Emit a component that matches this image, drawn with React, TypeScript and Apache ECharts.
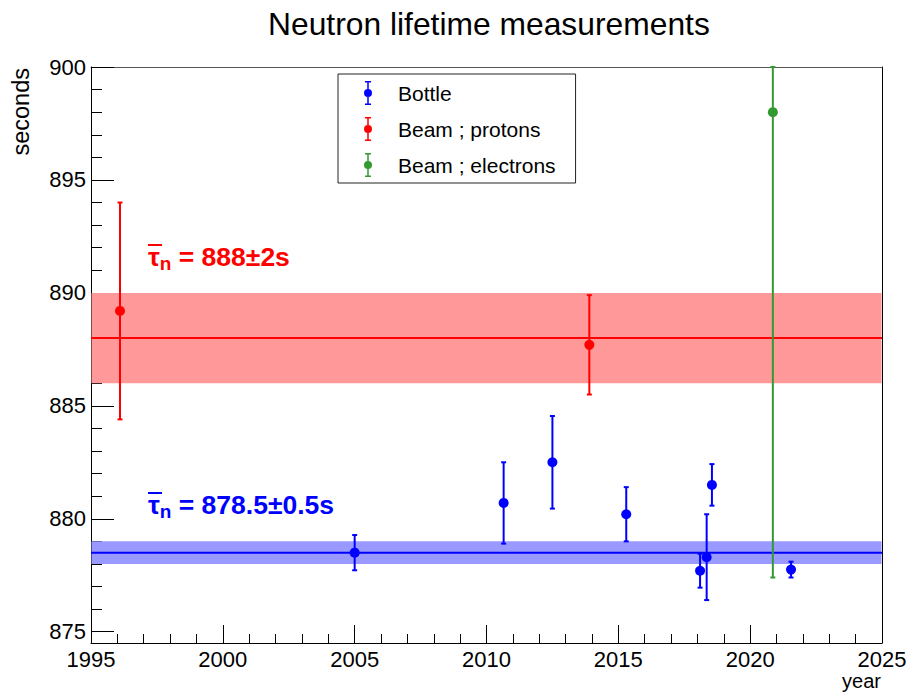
import React, { useEffect, useRef } from "react";
import * as echarts from "echarts";

// ---------- data ----------
const bottleYears = [2005.0, 2010.65, 2012.5, 2015.3, 2018.1, 2018.35, 2018.55, 2021.55];
const bottleValues = [878.5, 880.7, 882.5, 880.2, 877.7, 878.3, 881.5, 877.75];
const bottleErrLow = [0.78, 1.8, 2.05, 1.2, 0.75, 1.9, 0.92, 0.35];
const bottleErrHigh = [0.78, 1.8, 2.05, 1.2, 0.75, 1.9, 0.92, 0.35];

const protonYears = [1996.1, 2013.9];
const protonValues = [889.2, 887.7];
const protonErrLow = [4.8, 2.2];
const protonErrHigh = [4.8, 2.2];

const electronYears = [2020.86];
const electronValues = [898.0];
const electronErrLow = [20.6];
const electronErrHigh = [18.0];

const bandMeans = [888, 878.5];
const bandSigmas = [2, 0.5];

const seriesNames = ["Bottle", "Beam ; protons", "Beam ; electrons"];
const yMajorTicks = [875, 880, 885, 890, 895, 900];
const yMinorTicks = Array.from({ length: 26 }, (_, i) => 875 + i);

const X_MIN = 1995;
const X_MAX = 2025;
const Y_MIN = 874.5;
const Y_MAX = 900;

const FONT = "Liberation Sans, Arial, Helvetica, sans-serif";
const BLUE = "#0000ff";
const RED = "#ff0000";
const GREEN = "#339933";

const ICON =
  "path://M2,0H8V1.5H2Z M4.25,0H5.75V24H4.25Z M2,22.5H8V24H2Z M1,12A4,4 0 1,1 9,12A4,4 0 1,1 1,12Z";

function rows(xs: number[], ys: number[], lo: number[], hi: number[]) {
  return xs.map((x, i) => [x, ys[i], ys[i] - lo[i], ys[i] + hi[i]]);
}

function errorBarRender(color: string) {
  return (params: any, api: any) => {
    const x = api.value(0);
    const y = api.value(1);
    const lo = api.value(2);
    const hi = api.value(3);
    const cs = params.coordSys;
    const c = api.coord([x, y]);
    let top = api.coord([x, hi])[1];
    let bot = api.coord([x, lo])[1];
    top = Math.max(top, cs.y);
    bot = Math.min(bot, cs.y + cs.height);
    const cap = 2.5;
    const ls = { stroke: color, lineWidth: 2 };
    return {
      type: "group",
      children: [
        { type: "line", shape: { x1: c[0], y1: top, x2: c[0], y2: bot }, style: ls },
        { type: "line", shape: { x1: c[0] - cap, y1: top, x2: c[0] + cap, y2: top }, style: ls },
        { type: "line", shape: { x1: c[0] - cap, y1: bot, x2: c[0] + cap, y2: bot }, style: ls },
        { type: "circle", shape: { cx: c[0], cy: c[1], r: 5 }, style: { fill: color } },
      ],
    };
  };
}

const bandColors = [
  { fill: "#ff9999", line: RED },
  { fill: "#9999ff", line: BLUE },
];

function annotation(x: number, y: number, value: string, color: string) {
  const main = { fontFamily: FONT, fontSize: 26.5, fontWeight: "bold", fill: color, lineHeight: 32 };
  return {
    type: "group",
    x,
    y,
    children: [
      {
        type: "text",
        style: {
          text: "{t|τ}{s|n}{b| = " + value + "}",
          fill: color,
          verticalAlign: "middle",
          rich: {
            t: main,
            s: { fontFamily: FONT, fontSize: 19, fontWeight: "bold", fill: color, lineHeight: 20, verticalAlign: "bottom" },
            b: main,
          },
        },
      },
      { type: "line", shape: { x1: 0, y1: -12, x2: 14, y2: -12 }, style: { stroke: color, lineWidth: 2 } },
    ],
  };
}

export default function App() {
  const ref = useRef<HTMLDivElement>(null);

  useEffect(() => {
    if (!ref.current) return;
    const chart = echarts.init(ref.current, null, { renderer: "svg" });

    const option: any = {
      animation: false,
      backgroundColor: "#ffffff",
      textStyle: { fontFamily: FONT },
      title: {
        text: "Neutron lifetime measurements",
        left: 263,
        top: 3,
        textStyle: { fontFamily: FONT, fontSize: 31.8, fontWeight: "normal", color: "#000" },
      },
      legend: {
        orient: "vertical",
        left: 338,
        top: 74,
        padding: [7, 20, 6, 26],
        itemGap: 12,
        itemWidth: 10,
        itemHeight: 24,
        borderColor: "#222",
        borderWidth: 1,
        backgroundColor: "#fff",
        textStyle: { fontFamily: FONT, fontSize: 21, color: "#000", padding: [0, 0, 0, 20] },
        data: seriesNames.map((n) => ({ name: n, icon: ICON })),
      },
      grid: { left: 91, right: 28, top: 67, bottom: 49, show: false },
      xAxis: [
        {
          type: "value",
          min: X_MIN,
          max: X_MAX,
          interval: 5,
          axisLine: { show: true, onZero: false, lineStyle: { color: "#000", width: 1 } },
          axisTick: { show: true, inside: true, length: 18, lineStyle: { color: "#000" } },
          minorTick: { show: true, splitNumber: 5, length: 9, lineStyle: { color: "#000" } },
          axisLabel: {
            fontFamily: FONT,
            fontSize: 22,
            lineHeight: 20,
            color: "#000",
            margin: 6,
            formatter: (v: number) => String(v),
          },
          splitLine: { show: false },
        },
        {
          type: "value",
          position: "top",
          min: X_MIN,
          max: X_MAX,
          interval: 5,
          axisLine: { show: true, onZero: false, lineStyle: { color: "#555", width: 1 } },
          axisTick: { show: false },
          axisLabel: { show: false },
          splitLine: { show: false },
        },
      ],
      yAxis: [
        {
          type: "value",
          position: "left",
          min: Y_MIN,
          max: Y_MAX,
          axisLine: { show: true, onZero: false, lineStyle: { color: "#000", width: 1 } },
          axisTick: { show: true, inside: true, length: 23, customValues: yMajorTicks, lineStyle: { color: "#000" } },
          axisLabel: {
            fontFamily: FONT,
            fontSize: 22,
            color: "#000",
            margin: 5,
            customValues: yMajorTicks,
            formatter: (v: number) => String(v),
          },
          splitLine: { show: false },
        },
        {
          type: "value",
          position: "left",
          offset: 0,
          min: Y_MIN,
          max: Y_MAX,
          axisLine: { show: false },
          axisTick: { show: true, inside: true, length: 11, customValues: yMinorTicks, lineStyle: { color: "#000" } },
          axisLabel: { show: false },
          splitLine: { show: false },
        },
        {
          type: "value",
          position: "right",
          offset: 0,
          min: Y_MIN,
          max: Y_MAX,
          axisLine: { show: true, onZero: false, lineStyle: { color: "#000", width: 1 } },
          axisTick: { show: false },
          axisLabel: { show: false },
          splitLine: { show: false },
        },
      ],
      series: [
        {
          type: "custom",
          name: "bands",
          silent: true,
          data: bandMeans.map((m, i) => [m, bandSigmas[i], i]),
          renderItem: (params: any, api: any) => {
            const m = api.value(0);
            const s = api.value(1);
            const idx = api.value(2);
            const cs = params.coordSys;
            const yTop = api.coord([X_MIN, m + s])[1];
            const yBot = api.coord([X_MIN, m - s])[1];
            const yMid = api.coord([X_MIN, m])[1];
            const col = bandColors[idx];
            return {
              type: "group",
              children: [
                {
                  type: "rect",
                  shape: { x: cs.x + 0.5, y: yTop, width: cs.width - 1, height: yBot - yTop },
                  style: { fill: col.fill },
                },
                {
                  type: "line",
                  shape: { x1: cs.x, y1: yMid, x2: cs.x + cs.width, y2: yMid },
                  style: { stroke: col.line, lineWidth: 2 },
                },
              ],
            };
          },
          encode: { x: -1, y: 0 },
        },
        {
          type: "custom",
          name: seriesNames[1],
          itemStyle: { color: RED },
          data: rows(protonYears, protonValues, protonErrLow, protonErrHigh),
          renderItem: errorBarRender(RED),
          encode: { x: 0, y: 1 },
        },
        {
          type: "custom",
          name: seriesNames[2],
          itemStyle: { color: GREEN },
          data: rows(electronYears, electronValues, electronErrLow, electronErrHigh),
          renderItem: errorBarRender(GREEN),
          encode: { x: 0, y: 1 },
        },
        {
          type: "custom",
          name: seriesNames[0],
          itemStyle: { color: BLUE },
          data: rows(bottleYears, bottleValues, bottleErrLow, bottleErrHigh),
          renderItem: errorBarRender(BLUE),
          encode: { x: 0, y: 1 },
        },
      ],
      graphic: [
        {
          type: "text",
          x: 21,
          y: 68,
          rotation: Math.PI / 2,
          style: {
            text: "seconds",
            fontFamily: FONT,
            fontSize: 23.5,
            fill: "#000",
            align: "right",
            verticalAlign: "middle",
          },
        },
        {
          type: "text",
          x: 881,
          y: 681,
          style: {
            text: "year",
            fontFamily: FONT,
            fontSize: 20,
            lineHeight: 18,
            fill: "#000",
            align: "right",
            verticalAlign: "middle",
          },
        },
        annotation(148, 257, "888±2s", RED),
        annotation(148, 505, "878.5±0.5s", BLUE),
      ],
    };

    chart.setOption(option);
    return () => chart.dispose();
  }, []);

  return <div ref={ref} style={{ width: 910, height: 692, position: "absolute", left: 0, top: 0 }} />;
}
